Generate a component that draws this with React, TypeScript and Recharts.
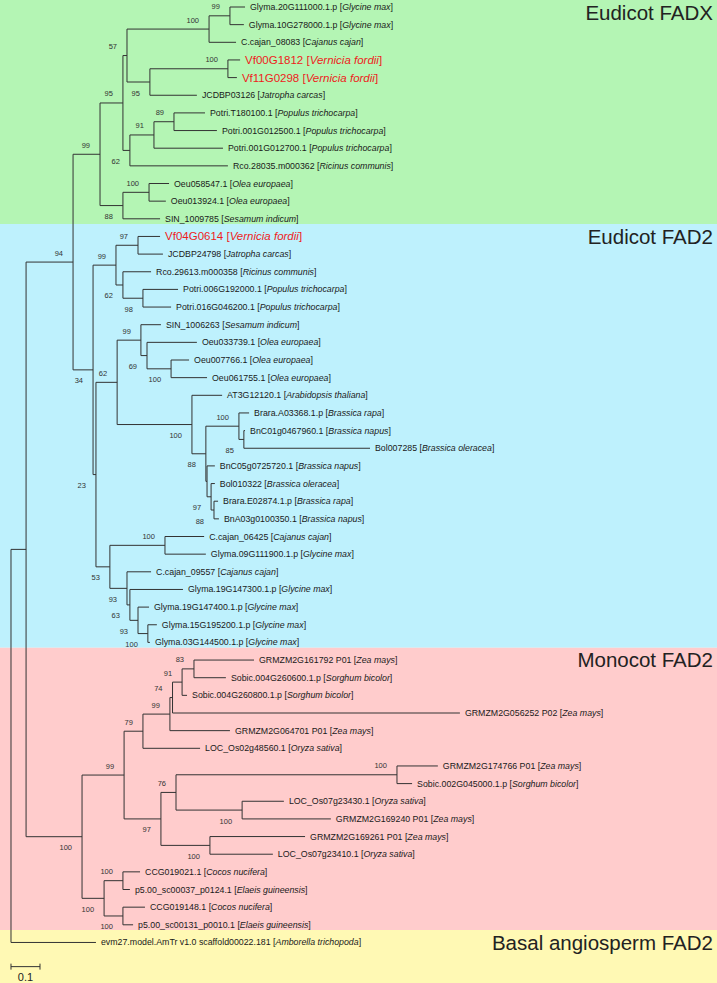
import React from 'react';
import { ComposedChart, Line, Scatter, XAxis, YAxis, ReferenceArea } from 'recharts';

// tips, top to bottom
const leafIds = [
  'Glyma.20G111000.1.p', 'Glyma.10G278000.1.p', 'C.cajan_08083', 'Vf00G1812', 'Vf11G0298',
  'JCDBP03126', 'Potri.T180100.1', 'Potri.001G012500.1', 'Potri.001G012700.1', 'Rco.28035.m000362',
  'Oeu058547.1', 'Oeu013924.1', 'SIN_1009785', 'Vf04G0614', 'JCDBP24798',
  'Rco.29613.m000358', 'Potri.006G192000.1', 'Potri.016G046200.1', 'SIN_1006263', 'Oeu033739.1',
  'Oeu007766.1', 'Oeu061755.1', 'AT3G12120.1', 'Brara.A03368.1.p', 'BnC01g0467960.1',
  'Bol007285', 'BnC05g0725720.1', 'Bol010322', 'Brara.E02874.1.p', 'BnA03g0100350.1',
  'C.cajan_06425', 'Glyma.09G111900.1.p', 'C.cajan_09557', 'Glyma.19G147300.1.p', 'Glyma.19G147400.1.p',
  'Glyma.15G195200.1.p', 'Glyma.03G144500.1.p', 'GRMZM2G161792 P01', 'Sobic.004G260600.1.p', 'Sobic.004G260800.1.p',
  'GRMZM2G056252 P02', 'GRMZM2G064701 P01', 'LOC_Os02g48560.1', 'GRMZM2G174766 P01', 'Sobic.002G045000.1.p',
  'LOC_Os07g23430.1', 'GRMZM2G169240 P01', 'GRMZM2G169261 P01', 'LOC_Os07g23410.1', 'CCG019021.1',
  'p5.00_sc00037_p0124.1', 'CCG019148.1', 'p5.00_sc00131_p0010.1', 'evm27.model.AmTr v1.0 scaffold00022.181',
];

const leafSpecies = [
  'Glycine max', 'Glycine max', 'Cajanus cajan', 'Vernicia fordii', 'Vernicia fordii',
  'Jatropha carcas', 'Populus trichocarpa', 'Populus trichocarpa', 'Populus trichocarpa', 'Ricinus communis',
  'Olea europaea', 'Olea europaea', 'Sesamum indicum', 'Vernicia fordii', 'Jatropha carcas',
  'Ricinus communis', 'Populus trichocarpa', 'Populus trichocarpa', 'Sesamum indicum', 'Olea europaea',
  'Olea europaea', 'Olea europaea', 'Arabidopsis thaliana', 'Brassica rapa', 'Brassica napus',
  'Brassica oleracea', 'Brassica napus', 'Brassica oleracea', 'Brassica rapa', 'Brassica napus',
  'Cajanus cajan', 'Glycine max', 'Cajanus cajan', 'Glycine max', 'Glycine max',
  'Glycine max', 'Glycine max', 'Zea mays', 'Sorghum bicolor', 'Sorghum bicolor',
  'Zea mays', 'Zea mays', 'Oryza sativa', 'Zea mays', 'Sorghum bicolor',
  'Oryza sativa', 'Zea mays', 'Zea mays', 'Oryza sativa', 'Cocos nucifera',
  'Elaeis guineensis', 'Cocos nucifera', 'Elaeis guineensis', 'Amborella trichopoda',
];

// distance of each tip from the root
const leafDist = [
  0.807, 0.803, 0.776, 0.790, 0.779, 0.641, 0.669, 0.710, 0.731, 0.748,
  0.545, 0.534, 0.514, 0.514, 0.524, 0.483, 0.576, 0.552, 0.517, 0.641,
  0.614, 0.676, 0.728, 0.821, 0.807, 1.238, 0.703, 0.703, 0.714, 0.717,
  0.666, 0.672, 0.483, 0.593, 0.476, 0.503, 0.479, 0.838, 0.741, 0.607,
  1.548, 0.755, 0.652, 1.472, 1.383, 0.941, 1.103, 1.014, 0.903, 0.445,
  0.410, 0.462, 0.421, 0.293,
];

// internal nodes: id, children (tip index or node id), distance from root, bootstrap
const clades: [string, (number | string)[], number, number | null][] = [
  ['root', ['A', 53], 0, null],
  ['A', ['n94', 'mono'], 0.052, null],
  ['n94', ['fadx', 'n34'], 0.214, 94],
  ['fadx', ['n95', 'n88'], 0.307, 99],
  ['n95', ['n57', 'n62'], 0.386, 95],
  ['n57', ['n100a', 'n95b'], 0.4, 57],
  ['n100a', ['n99a', 2], 0.683, 100],
  ['n99a', [0, 1], 0.755, 99],
  ['n95b', ['n100b', 5], 0.479, 95],
  ['n100b', [3, 4], 0.748, 100],
  ['n62', ['n91', 9], 0.41, 62],
  ['n91', ['n89', 8], 0.493, 91],
  ['n89', [6, 7], 0.562, 89],
  ['n88', ['n100c', 12], 0.386, 88],
  ['n100c', [10, 11], 0.476, 100],
  ['n34', ['n99b', 'n23'], 0.283, 34],
  ['n99b', ['n97', 'n62b'], 0.362, 99],
  ['n97', [13, 14], 0.438, 97],
  ['n62b', [15, 'n98'], 0.386, 62],
  ['n98', [16, 17], 0.455, 98],
  ['n23', ['n62c', 'n53'], 0.293, 23],
  ['n62c', ['n99c', 'n100d'], 0.366, 62],
  ['n99c', [18, 'n69'], 0.448, 99],
  ['n69', [19, 'n100e'], 0.469, 69],
  ['n100e', [20, 21], 0.552, 100],
  ['n100d', [22, 'n88b'], 0.624, 100],
  ['n88b', ['n100f', 'nq'], 0.672, 88],
  ['n100f', [23, 'n85'], 0.786, 100],
  ['n85', [24, 25], 0.803, 85],
  ['nq', [26, 'n97b'], 0.676, null],
  ['n97b', [27, 'n88c'], 0.69, 97],
  ['n88c', [28, 29], 0.7, 88],
  ['n53', ['n100g', 'n93'], 0.341, 53],
  ['n100g', [30, 31], 0.531, 100],
  ['n93', [32, 'n63'], 0.4, 93],
  ['n63', [33, 'n93b'], 0.41, 63],
  ['n93b', [34, 'n100h'], 0.438, 93],
  ['n100h', [35, 36], 0.472, 100],
  ['mono', ['grass', 'palm'], 0.245, 100],
  ['grass', ['n79', 'n97m'], 0.39, 99],
  ['n79', ['n99m', 42], 0.455, 79],
  ['n99m', ['n74', 41], 0.548, 99],
  ['n74', ['n91m', 40], 0.557, 74],
  ['n91m', ['n83', 39], 0.59, 91],
  ['n83', [37, 38], 0.631, 83],
  ['n97m', ['n76', 'n100m3'], 0.517, 97],
  ['n76', ['n100m1', 'n100m2'], 0.569, 76],
  ['n100m1', [43, 44], 1.331, 100],
  ['n100m2', [45, 46], 0.797, 100],
  ['n100m3', [47, 48], 0.686, 100],
  ['palm', ['palmA', 'palmB'], 0.321, 100],
  ['palmA', [49, 50], 0.386, 100],
  ['palmB', [51, 52], 0.386, 100],
];

// shaded groups: name, first tip, last tip
const groupNames = ['Eudicot FADX', 'Eudicot FAD2', 'Monocot FAD2', 'Basal angiosperm FAD2'];
const groupFirst = [0, 13, 37, 53];
const groupLast = [12, 36, 52, 53];
const groupColors = ['#b4f5b4', '#bef1fd', '#ffcccc', '#fff9b4'];

const SCALE_LEN = 0.1;
const SCALE_ROW = 54.37;

const X_MIN = -0.0379;
const X_MAX = 2.4345;
const Y_MIN = -0.3966;
const Y_MAX = 55.297;
const FONT = '"Liberation Sans", Arial, sans-serif';
const HIGHLIGHT = 'Vernicia fordii';

const byId: Record<string, [string, (number | string)[], number, number | null]> = {};
clades.forEach((c) => { byId[c[0]] = c; });

const pos: Record<string, { x: number; y: number }> = {};
const place = (ref: number | string): { x: number; y: number } => {
  if (typeof ref === 'number') return { x: leafDist[ref], y: ref };
  const c = byId[ref];
  const kids = c[1].map(place);
  const p = { x: c[2], y: (kids[0].y + kids[kids.length - 1].y) / 2 };
  pos[ref] = p;
  return p;
};
place('root');

const branchPts: { x: number; y: number | null }[] = [];
const seg = (x1: number, y1: number, x2: number, y2: number) => {
  branchPts.push({ x: x1, y: y1 }, { x: x2, y: y2 }, { x: x2, y: null });
};
const bsPts: { x: number; y: number; bs: number; below: boolean }[] = [];
clades.forEach(([id, kids]) => {
  const p = pos[id];
  const kp = kids.map((k) => (typeof k === 'number' ? { x: leafDist[k], y: k } : pos[k]));
  seg(p.x, kp[0].y, p.x, kp[kp.length - 1].y);
  kp.forEach((k) => seg(p.x, k.y, k.x, k.y));
  kids.forEach((k, i) => {
    if (typeof k === 'string' && byId[k][3] != null) {
      bsPts.push({ x: pos[k].x, y: pos[k].y, bs: byId[k][3] as number, below: i === kids.length - 1 });
    }
  });
});

const leafPts = leafIds.map((name, i) => ({ x: leafDist[i], y: i, name, sp: leafSpecies[i] }));

const bands = groupNames.map((name, i) => ({
  name,
  top: i === 0 ? Y_MIN : groupLast[i - 1] + 0.3,
  bottom: i === groupNames.length - 1 ? Y_MAX : groupLast[i] + 0.3,
  first: groupFirst[i],
}));
const bandLabels = bands.map((b) => ({ x: X_MAX, y: b.top, name: b.name }));

const scalePts = [{ x: 0, y: SCALE_ROW }, { x: SCALE_LEN, y: SCALE_ROW }];
const scaleLabel = [{ x: SCALE_LEN / 2, y: SCALE_ROW, label: String(SCALE_LEN) }];

const LeafLabel = (p: any) => {
  const d = p.payload;
  const hi = d.sp === HIGHLIGHT;
  return (
    <text x={p.cx + 5} y={p.cy} dominantBaseline="central" fontSize={hi ? 11.5 : 8.8}
      fill={hi ? '#ee1c1c' : '#1a1a1a'} fontFamily={FONT}>
      {d.name + ' ['}
      <tspan fontStyle="italic">{d.sp}</tspan>
      {']'}
    </text>
  );
};

const BsLabel = (p: any) => (
  <text x={p.cx - 10} y={p.cy + (p.payload.below ? 11 : -9)} textAnchor="end"
    dominantBaseline="central" fontSize={7.5} fill="#333" fontFamily={FONT}>
    {p.payload.bs}
  </text>
);

const GroupLabel = (p: any) => (
  <text x={p.cx - 4} y={p.cy + 12} textAnchor="end" dominantBaseline="central"
    fontSize={20.5} fill="#222" fontFamily={FONT}>
    {p.payload.name}
  </text>
);

const ScaleTick = (p: any) => (
  <line key={`t${p.index}`} x1={p.cx} x2={p.cx} y1={p.cy - 3} y2={p.cy + 3} stroke="#333" strokeWidth={1} />
);

const ScaleText = (p: any) => (
  <text x={p.cx} y={p.cy + 10} textAnchor="middle" dominantBaseline="central"
    fontSize={11} fill="#222" fontFamily={FONT}>
    {p.payload.label}
  </text>
);

export default function App() {
  return (
    <div style={{ position: 'absolute', left: 0, top: 0 }}>
      <ComposedChart width={717} height={983} margin={{ top: 0, right: 0, bottom: 0, left: 0 }}>
        <XAxis type="number" dataKey="x" domain={[X_MIN, X_MAX]} allowDataOverflow hide />
        <YAxis type="number" dataKey="y" domain={[Y_MIN, Y_MAX]} allowDataOverflow reversed hide />
        {bands.map((b, i) => (
          <ReferenceArea key={b.name} y1={b.top} y2={b.bottom} fill={groupColors[i]} fillOpacity={1}
            stroke="none" ifOverflow="visible" />
        ))}
        <Line data={branchPts} dataKey="y" type="linear" stroke="#333" strokeWidth={1} dot={false}
          activeDot={false} connectNulls={false} isAnimationActive={false} />
        <Line data={scalePts} dataKey="y" type="linear" stroke="#333" strokeWidth={1} dot={ScaleTick}
          activeDot={false} isAnimationActive={false} />
        <Scatter data={leafPts} dataKey="y" shape={LeafLabel} isAnimationActive={false} />
        <Scatter data={bsPts} dataKey="y" shape={BsLabel} isAnimationActive={false} />
        <Scatter data={bandLabels} dataKey="y" shape={GroupLabel} isAnimationActive={false} />
        <Scatter data={scaleLabel} dataKey="y" shape={ScaleText} isAnimationActive={false} />
      </ComposedChart>
    </div>
  );
}
